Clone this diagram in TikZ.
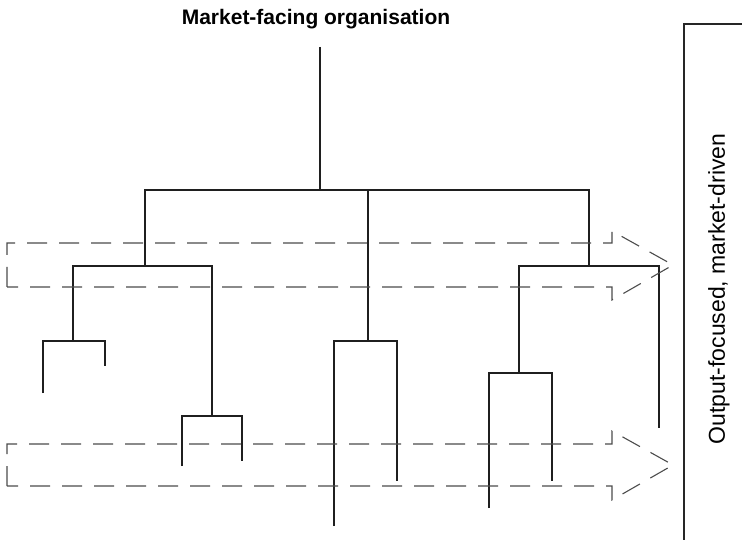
\documentclass[tikz,border=0pt]{standalone}
\usepackage{fontspec}
\setmainfont{Liberation Sans}
\begin{document}
\begin{tikzpicture}[x=1pt,y=-1pt,
  treeline/.style={draw=black!88,line width=1.4pt},
  flowarrow/.style={draw=black!70,line width=1.1pt,dash pattern=on 20pt off 12pt},
  framebox/.style={draw=black!85,line width=2pt}]
\useasboundingbox (0,0) rectangle (742,540);
% title and side label
\node[font=\bfseries\fontsize{21}{24}\selectfont] (title) at (316,19) {Market-facing organisation};
\node[rotate=90,font=\fontsize{23}{26}\selectfont] (side) at (719,289) {Output-focused, market-driven};
% side frame
\coordinate (fb) at (684,541);
\coordinate (ft) at (684,24);
\coordinate (fr) at (745,24);
\draw[framebox] (fb) -- (ft) -- (fr);
% tree coordinates
\coordinate (r0) at (320,47);
\coordinate (r1) at (320,190);
\coordinate (a0) at (145,190);
\coordinate (b0) at (368,190);
\coordinate (c0) at (589,190);
\coordinate (a1) at (145,266);
\coordinate (aL) at (73,266);
\coordinate (aR) at (212,266);
\coordinate (aL1) at (73,341);
\coordinate (aLl) at (43,341);
\coordinate (aLr) at (105,341);
\coordinate (aLlE) at (43,393);
\coordinate (aLrE) at (105,366);
\coordinate (aR1) at (212,416);
\coordinate (aRl) at (182,416);
\coordinate (aRr) at (242,416);
\coordinate (aRlE) at (182,466);
\coordinate (aRrE) at (242,461);
\coordinate (b1) at (368,341);
\coordinate (bl) at (334,341);
\coordinate (br) at (397,341);
\coordinate (blE) at (334,526);
\coordinate (brE) at (397,481);
\coordinate (c1) at (589,266);
\coordinate (cL) at (519,266);
\coordinate (cR) at (659,266);
\coordinate (cRE) at (659,428);
\coordinate (cL1) at (519,373);
\coordinate (cLl) at (489,373);
\coordinate (cLr) at (552,373);
\coordinate (cLlE) at (489,508);
\coordinate (cLrE) at (552,481);
% tree
\draw[treeline] (r0) -- (r1);
\draw[treeline] (a1) -- (a0) -- (c0) -- (c1);
\draw[treeline] (b0) -- (b1);
\draw[treeline] (aL1) -- (aL) -- (aR) -- (aR1);
\draw[treeline] (aLlE) -- (aLl) -- (aLr) -- (aLrE);
\draw[treeline] (aRlE) -- (aRl) -- (aRr) -- (aRrE);
\draw[treeline] (blE) -- (bl) -- (br) -- (brE);
\draw[treeline] (cL1) -- (cL) -- (cR) -- (cRE);
\draw[treeline] (cLlE) -- (cLl) -- (cLr) -- (cLrE);
% upper flow arrow
\coordinate (u1) at (7,287);
\coordinate (u2) at (7,243);
\coordinate (u3) at (612,243);
\coordinate (u4) at (612,231);
\coordinate (u5) at (673,265);
\coordinate (u6) at (612,300);
\coordinate (u7) at (612,287);
\draw[flowarrow] (u1) -- (u2) -- (u3) -- (u4) -- (u5) -- (u6) -- (u7) -- cycle;
% lower flow arrow
\coordinate (l1) at (7,486);
\coordinate (l2) at (7,444);
\coordinate (l3) at (612,444);
\coordinate (l4) at (612,431);
\coordinate (l5) at (673,465);
\coordinate (l6) at (612,500);
\coordinate (l7) at (612,486);
\draw[flowarrow] (l1) -- (l2) -- (l3) -- (l4) -- (l5) -- (l6) -- (l7) -- cycle;
\end{tikzpicture}
\end{document}
